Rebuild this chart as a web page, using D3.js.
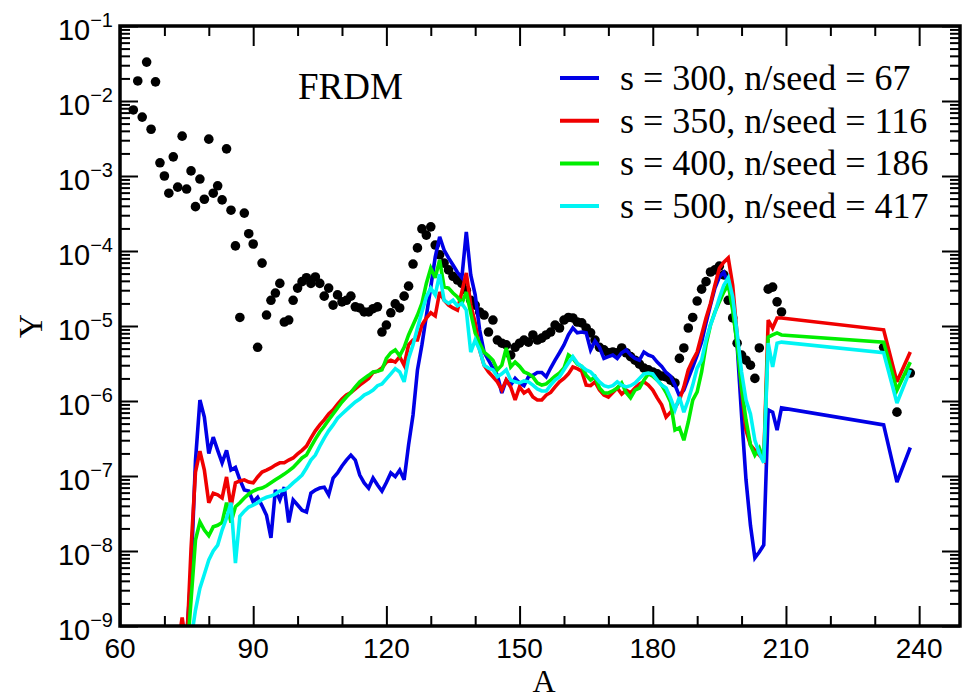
<!DOCTYPE html>
<html><head><meta charset="utf-8">
<script src="https://cdn.jsdelivr.net/npm/d3@7"></script>
<style>body{margin:0;background:#fff}</style>
</head><body>
<svg id="chart" width="964" height="698"></svg>
<script>
// ---------------- data ----------------
const xMajorTicks = [60, 90, 120, 150, 180, 210, 240];
const xMinorTicks = [70, 80, 100, 110, 130, 140, 160, 170, 190, 200, 220, 230];
const yExponents = [-1, -2, -3, -4, -5, -6, -7, -8, -9];
const seriesLabels = ["s = 300, n/seed = 67", "s = 350, n/seed = 116", "s = 400, n/seed = 186", "s = 500, n/seed = 417"];
const seriesColors = ["#0000e6", "#f00000", "#00ee00", "#00f4f4"];
const annotation = "FRDM";

// solar r-process abundances (black dots): [A, Y]
const solarR = [
[63,7.6e-3],[64,1.85e-2],[65,6.1e-3],[66,3.3e-2],[67,4.2e-3],[68,1.8e-2],[69,1.5e-3],[70,1.0e-3],
[71,5.9e-4],[72,1.8e-3],[73,7.1e-4],[74,3.4e-3],[75,6.7e-4],[76,1.17e-3],[77,3.9e-4],[78,9.1e-4],
[79,4.9e-4],[80,3.1e-3],[81,5.9e-4],[82,7.4e-4],[83,4.8e-4],[84,2.3e-3],[85,3.5e-4],[86,1.17e-4],
[87,1.3e-5],[88,3.2e-4],[89,1.7e-4],[90,1.24e-4],[91,5.2e-6],[92,6.9e-5],[93,1.4e-5],[94,2.2e-5],
[95,2.75e-5],[96,3.7e-5],[97,1.13e-5],[98,1.2e-5],[99,2.2e-5],[100,3.2e-5],[101,3.9e-5],[102,4.4e-5],
[103,3.7e-5],[104,4.5e-5],[105,3.7e-5],[106,2.5e-5],[107,3.2e-5],[108,1.9e-5],[109,2.6e-5],[110,2.1e-5],
[111,2.2e-5],[112,2.5e-5],[113,1.8e-5],[114,1.74e-5],[115,1.54e-5],[116,1.54e-5],[117,1.7e-5],[118,1.8e-5],
[119,8.3e-6],[120,1.03e-5],[121,1.5e-5],[122,1.97e-5],[123,1.74e-5],[124,2.5e-5],[125,3.4e-5],[126,6.7e-5],
[127,1.1e-4],[128,1.97e-4],[129,1.63e-4],[130,2.1e-4],[131,1.2e-4],[132,8.9e-5],[133,6.9e-5],[134,5.6e-5],
[135,4.6e-5],[136,4.1e-5],[137,3.7e-5],[138,3.0e-5],[139,2.2e-5],[140,1.9e-5],[141,1.54e-5],[142,1.4e-5],
[143,8.3e-6],[144,1.2e-5],[145,6.5e-6],[146,5.9e-6],[147,5.6e-6],[148,4.1e-6],[149,5.2e-6],[150,5.9e-6],
[151,6.5e-6],[152,6.1e-6],[153,7.6e-6],[154,6.5e-6],[155,6.9e-6],[156,7.6e-6],[157,8.3e-6],[158,1.03e-5],
[159,9.4e-6],[160,1.2e-5],[161,1.3e-5],[162,1.28e-5],[163,1.13e-5],[164,1.1e-5],[165,9.4e-6],[166,8.1e-6],
[167,6.5e-6],[168,5.2e-6],[169,4.8e-6],[170,4.4e-6],[171,4.5e-6],[172,4.4e-6],[173,5.1e-6],[174,4.4e-6],
[175,3.9e-6],[176,3.5e-6],[177,3.1e-6],[178,2.75e-6],[179,2.6e-6],[180,2.44e-6],[181,2.3e-6],[182,2.15e-6],
[183,2.1e-6],[184,1.9e-6],[185,1.74e-6],[186,3.7e-6],[187,5.1e-6],[188,9.4e-6],[189,1.3e-5],[190,2.15e-5],
[191,3.1e-5],[192,3.9e-5],[193,5.25e-5],[194,5.6e-5],[195,6.3e-5],[196,4.8e-5],[197,2.2e-5],[198,1.28e-5],
[199,5.9e-6],[200,4.1e-6],[201,3.5e-6],[202,3.0e-6],[203,2.0e-6],[204,5.1e-6],[206,3.1e-5],[207,3.3e-5],
[208,2.1e-5],[209,1.54e-5],[232,5.2e-6],[235,7.1e-7],[238,2.36e-6]
];

// s = 300, n/seed = 67
const s300 = [
[74,3e-10],[75,7e-10],[76,5e-9],[77,1.6e-7],[78,1.03e-6],[79,6.1e-7],[80,2.0e-7],[81,3.3e-7],[82,2.2e-7],
[83,1.5e-7],[84,2.2e-7],[85,1.2e-7],[86,1.3e-7],[87,8.9e-8],[88,6.5e-8],[89,6.3e-8],[90,4.5e-8],[91,5.2e-8],
[92,4.0e-8],[93,3.0e-8],[94,1.5e-8],[95,6.5e-8],[96,4.8e-8],[97,7.1e-8],[98,2.4e-8],[99,4.8e-8],[100,4.1e-8],
[101,3.5e-8],[102,3.3e-8],[103,5.9e-8],[104,6.5e-8],[105,6.9e-8],[106,7.1e-8],[107,5.6e-8],[108,9.4e-8],
[109,1.1e-7],[110,1.36e-7],[111,1.63e-7],[112,1.9e-7],[113,1.63e-7],[114,1.03e-7],[115,8.1e-8],[116,6.9e-8],
[117,9.4e-8],[118,7.6e-8],[119,6.3e-8],[120,8.2e-8],[121,1.1e-7],[122,9.8e-8],[123,1.2e-7],[124,8.9e-8],
[125,2.6e-7],[126,6.5e-7],[127,2.6e-6],[128,5.6e-6],[129,1.36e-5],[130,3.3e-5],[131,8.3e-5],[132,1.54e-4],
[133,1.03e-4],[134,8.1e-5],[135,6.5e-5],[136,5.2e-5],[137,4.4e-5],[138,1.8e-4],[139,4.8e-5],[140,2.6e-5],
[141,8.9e-6],[142,4.5e-6],[143,3.5e-6],[144,2.75e-6],[145,2.2e-6],[146,1.28e-6],[147,1.9e-6],[148,1.63e-6],
[149,2.0e-6],[150,1.74e-6],[151,1.6e-6],[152,2.1e-6],[153,2.2e-6],[154,2.4e-6],[155,2.4e-6],[156,2.1e-6],
[157,2.75e-6],[158,3.5e-6],[159,4.4e-6],[160,5.6e-6],[161,7.6e-6],[162,9.4e-6],[163,8.1e-6],[164,8.3e-6],
[165,8.1e-6],[166,4.8e-6],[167,6.3e-6],[168,5.2e-6],[169,3.7e-6],[170,3.9e-6],[171,4.1e-6],[172,3.7e-6],
[173,4.4e-6],[174,4.8e-6],[175,4.1e-6],[176,3.7e-6],[177,3.5e-6],[178,4.5e-6],[179,4.1e-6],[180,3.9e-6],
[181,3.3e-6],[182,2.9e-6],[183,2.4e-6],[184,2.15e-6],[185,1.63e-6],[186,1.17e-6],[187,1.4e-6],[188,2.0e-6],
[189,2.84e-6],[190,4.1e-6],[191,6.1e-6],[192,1.1e-5],[193,1.9e-5],[194,3.2e-5],[195,4.5e-5],[196,5.2e-5],
[197,3.7e-5],[198,1.8e-5],[199,5.6e-6],[200,6.5e-7],[201,8.9e-8],[202,2.2e-8],[203,8.1e-9],[204,9.7e-9],
[205,1.2e-8],[206,7.6e-7],[207,7.1e-7],[208,4.1e-7],[209,8.1e-7],[232,4.8e-7],[235,8.3e-8],[238,2.4e-7]
];

// s = 350, n/seed = 116
const s350 = [
[73,5e-10],[74,1.3e-9],[75,5e-10],[76,1.06e-8],[77,1.13e-7],[78,2.15e-7],[79,1.2e-7],[80,4.4e-8],[81,5.9e-8],
[82,5.6e-8],[83,5.1e-8],[84,9.7e-8],[85,3.9e-8],[86,8.1e-8],[87,8.6e-8],[88,8.9e-8],[89,8.3e-8],[90,8.1e-8],
[91,9.7e-8],[92,1.13e-7],[93,1.2e-7],[94,1.28e-7],[95,1.4e-7],[96,1.5e-7],[97,1.5e-7],[98,1.63e-7],[99,1.74e-7],
[100,1.97e-7],[101,2.2e-7],[102,2.5e-7],[103,3.2e-7],[104,4.0e-7],[105,4.8e-7],[106,5.6e-7],[107,6.7e-7],
[108,7.6e-7],[109,9.1e-7],[110,1.06e-6],[111,1.2e-6],[112,1.3e-6],[113,1.45e-6],[114,1.63e-6],[115,1.8e-6],
[116,2.0e-6],[117,2.4e-6],[118,2.5e-6],[119,2.75e-6],[120,3.3e-6],[121,3.5e-6],[122,3.3e-6],[123,3.9e-6],
[124,3.0e-6],[125,5.6e-6],[126,6.5e-6],[127,6.5e-6],[128,1.03e-5],[129,1.28e-5],[130,1.5e-5],[131,1.36e-5],
[132,2.84e-5],[133,2.2e-5],[134,1.9e-5],[135,1.74e-5],[136,1.63e-5],[137,2.84e-5],[138,5.1e-5],[139,1.9e-5],
[140,1.1e-5],[141,4.8e-6],[142,3.0e-6],[143,2.44e-6],[144,2.1e-6],[145,1.8e-6],[146,1.4e-6],[147,1.9e-6],
[148,1.54e-6],[149,1.03e-6],[150,1.54e-6],[151,1.28e-6],[152,1.4e-6],[153,1.13e-6],[154,1.03e-6],[155,1.03e-6],
[156,1.2e-6],[157,1.3e-6],[158,1.54e-6],[159,1.8e-6],[160,2.0e-6],[161,2.3e-6],[162,2.84e-6],[163,2.7e-6],
[164,2.5e-6],[165,1.63e-6],[166,1.6e-6],[167,1.8e-6],[168,1.4e-6],[169,1.2e-6],[170,1.13e-6],[171,1.3e-6],
[172,1.49e-6],[173,1.24e-6],[174,1.4e-6],[175,1.28e-6],[176,1.49e-6],[177,1.69e-6],[178,1.8e-6],[179,1.63e-6],
[180,1.4e-6],[181,1.1e-6],[182,8.9e-7],[183,6.1e-7],[184,7.1e-7],[185,8.1e-7],[186,1.03e-6],[187,1.54e-6],
[188,2.6e-6],[189,3.5e-6],[190,4.5e-6],[191,7.6e-6],[192,1.28e-5],[193,2.0e-5],[194,3.5e-5],[195,5.9e-5],
[196,7.1e-5],[197,8.1e-5],[198,3.5e-5],[199,7.6e-6],[200,1.4e-6],[201,4.1e-7],[202,2.6e-7],[203,2.2e-7],
[204,1.9e-7],[205,1.63e-7],[206,1.2e-5],[207,9.4e-6],[208,1.28e-5],[209,1.28e-5],[232,8.9e-6],[235,1.8e-6],
[238,4.5e-6]
];

// s = 400, n/seed = 186
const s400 = [
[75,3.5e-10],[76,2.2e-9],[77,1.4e-8],[78,2.44e-8],[79,1.9e-8],[80,1.6e-8],[81,2.1e-8],[82,2.2e-8],[83,2.4e-8],
[84,4.4e-8],[85,2.4e-8],[86,3.9e-8],[87,4.4e-8],[88,5.1e-8],[89,5.75e-8],[90,6.3e-8],[91,6.7e-8],[92,6.9e-8],
[93,7.4e-8],[94,8.1e-8],[95,8.9e-8],[96,9.7e-8],[97,1.06e-7],[98,1.17e-7],[99,1.3e-7],[100,1.5e-7],[101,1.74e-7],
[102,1.9e-7],[103,2.44e-7],[104,3.1e-7],[105,3.86e-7],[106,4.6e-7],[107,5.6e-7],[108,6.7e-7],[109,8.1e-7],
[110,9.7e-7],[111,1.13e-6],[112,1.3e-6],[113,1.54e-6],[114,1.8e-6],[115,2.0e-6],[116,2.2e-6],[117,2.44e-6],
[118,2.5e-6],[119,2.6e-6],[120,3.7e-6],[121,4.4e-6],[122,4.8e-6],[123,4.0e-6],[124,5.2e-6],[125,7.6e-6],
[126,1.03e-5],[127,1.4e-5],[128,2.0e-5],[129,3.7e-5],[130,5.9e-5],[131,4.4e-5],[132,7.6e-5],[133,3.3e-5],
[134,3.2e-5],[135,2.75e-5],[136,2.44e-5],[137,2.0e-5],[138,2.84e-5],[139,1.5e-5],[140,8.1e-6],[141,5.9e-6],
[142,4.5e-6],[143,4.0e-6],[144,3.5e-6],[145,2.6e-6],[146,3.0e-6],[147,5.1e-6],[148,2.84e-6],[149,3.3e-6],
[150,2.9e-6],[151,2.44e-6],[152,2.3e-6],[153,2.1e-6],[154,1.74e-6],[155,1.63e-6],[156,1.69e-6],[157,1.9e-6],
[158,2.15e-6],[159,2.36e-6],[160,2.75e-6],[161,4.1e-6],[162,3.7e-6],[163,3.1e-6],[164,2.9e-6],[165,2.2e-6],
[166,1.9e-6],[167,2.1e-6],[168,1.49e-6],[169,1.28e-6],[170,1.28e-6],[171,1.36e-6],[172,1.49e-6],[173,1.74e-6],
[174,1.3e-6],[175,1.1e-6],[176,1.4e-6],[177,1.49e-6],[178,1.9e-6],[179,2.3e-6],[180,2.15e-6],[181,1.9e-6],
[182,1.63e-6],[183,1.3e-6],[184,9.7e-7],[185,4.1e-7],[186,4.4e-7],[187,3.0e-7],[188,5.25e-7],[189,1.03e-6],
[190,1.32e-6],[191,2.44e-6],[192,5.6e-6],[193,1.03e-5],[194,1.54e-5],[195,2.1e-5],[196,2.84e-5],[197,3.6e-5],
[198,1.63e-5],[199,5.6e-6],[200,1.49e-6],[201,5.6e-7],[202,2.6e-7],[203,1.9e-7],[204,2.36e-7],[205,1.63e-7],
[206,7.1e-6],[207,7.6e-6],[208,8.1e-6],[209,7.6e-6],[232,6.1e-6],[235,1.4e-6],[238,3.3e-6]
];

// s = 500, n/seed = 417
const s500 = [
[76,6.5e-10],[77,1.63e-9],[78,3.2e-9],[79,4.9e-9],[80,7.6e-9],[81,1.0e-8],[82,1.2e-8],[83,1.9e-8],[84,2.75e-8],
[85,4.4e-8],[86,6.9e-9],[87,2.9e-8],[88,3.4e-8],[89,3.86e-8],[90,4.1e-8],[91,4.4e-8],[92,4.9e-8],[93,5.2e-8],
[94,5.4e-8],[95,5.75e-8],[96,6.3e-8],[97,6.5e-8],[98,7.1e-8],[99,8.1e-8],[100,9.1e-8],[101,1.03e-7],[102,1.28e-7],
[103,1.63e-7],[104,1.9e-7],[105,2.5e-7],[106,3.2e-7],[107,4.0e-7],[108,4.8e-7],[109,5.9e-7],[110,6.7e-7],
[111,7.6e-7],[112,8.6e-7],[113,9.7e-7],[114,1.06e-6],[115,1.2e-6],[116,1.28e-6],[117,1.4e-6],[118,1.6e-6],
[119,1.69e-6],[120,1.97e-6],[121,2.3e-6],[122,2.7e-6],[123,2.44e-6],[124,1.8e-6],[125,3.7e-6],[126,5.6e-6],
[127,9.4e-6],[128,1.54e-5],[129,2.44e-5],[130,3.2e-5],[131,2.6e-5],[132,4.9e-5],[133,2.2e-5],[134,2.0e-5],
[135,2.2e-5],[136,1.85e-5],[137,2.0e-5],[138,1.63e-5],[139,4.5e-6],[140,6.5e-6],[141,4.8e-6],[142,3.0e-6],
[143,2.75e-6],[144,2.6e-6],[145,2.1e-6],[146,2.3e-6],[147,2.6e-6],[148,1.9e-6],[149,1.8e-6],[150,1.74e-6],
[151,1.85e-6],[152,1.8e-6],[153,1.63e-6],[154,1.45e-6],[155,1.36e-6],[156,1.36e-6],[157,1.63e-6],[158,1.9e-6],
[159,2.1e-6],[160,2.6e-6],[161,3.2e-6],[162,3.9e-6],[163,3.2e-6],[164,2.9e-6],[165,2.6e-6],[166,2.44e-6],
[167,2.1e-6],[168,1.8e-6],[169,1.6e-6],[170,1.54e-6],[171,1.6e-6],[172,1.8e-6],[173,1.63e-6],[174,1.54e-6],
[175,1.6e-6],[176,1.74e-6],[177,2.0e-6],[178,2.3e-6],[179,2.36e-6],[180,2.3e-6],[181,1.9e-6],[182,1.63e-6],
[183,1.49e-6],[184,1.1e-6],[185,7.6e-7],[186,1.13e-6],[187,7.1e-7],[188,1.03e-6],[189,1.63e-6],[190,2.75e-6],
[191,3.5e-6],[192,6.5e-6],[193,1.03e-5],[194,1.5e-5],[195,2.36e-5],[196,3.5e-5],[197,4.4e-5],[198,2.44e-5],
[199,8.1e-6],[200,2.44e-6],[201,1.03e-6],[202,6.7e-7],[203,3.0e-7],[204,2.0e-7],[205,1.5e-7],[206,5.9e-6],
[207,2.84e-6],[208,5.9e-6],[209,6.1e-6],[232,4.4e-6],[235,9.4e-7],[238,2.6e-6]
];

const seriesData = [s300, s350, s400, s500];

// ---------------- drawing ----------------
const svg = d3.select("#chart");
const W = 964, H = 698;
const pLeft = 120, pRight = 960, pTop = 26, pBottom = 626;

const x = d3.scaleLinear().domain([60, 249.2]).range([pLeft, pRight]);
const y = d3.scaleLog().domain([1e-9, 1e-1]).range([pBottom, pTop]);

svg.append("rect").attr("width", W).attr("height", H).attr("fill", "#fff");

svg.append("defs").append("clipPath").attr("id", "plotclip")
  .append("rect").attr("x", pLeft).attr("y", pTop).attr("width", pRight - pLeft).attr("height", pBottom - pTop);

const yMajorTicks = yExponents.map(e => Math.pow(10, e));
const yMinorTicks = [];
yExponents.forEach(e => { for (let m = 2; m <= 9; m++) { const v = m * Math.pow(10, e); if (v < 1e-1) yMinorTicks.push(v); } });

function styleAxis(g) {
  g.select(".domain").remove();
  g.selectAll(".tick line").attr("stroke", "#000").attr("stroke-width", 2);
  g.selectAll(".tick text").remove();
}
svg.append("g").attr("transform", `translate(0,${pBottom})`)
  .call(d3.axisBottom(x).tickValues(xMajorTicks).tickSize(-20).tickFormat("")).call(styleAxis);
svg.append("g").attr("transform", `translate(0,${pBottom})`)
  .call(d3.axisBottom(x).tickValues(xMinorTicks).tickSize(-10).tickFormat("")).call(styleAxis);
svg.append("g").attr("transform", `translate(0,${pTop})`)
  .call(d3.axisTop(x).tickValues(xMajorTicks).tickSize(-20).tickFormat("")).call(styleAxis);
svg.append("g").attr("transform", `translate(0,${pTop})`)
  .call(d3.axisTop(x).tickValues(xMinorTicks).tickSize(-10).tickFormat("")).call(styleAxis);
svg.append("g").attr("transform", `translate(${pLeft},0)`)
  .call(d3.axisLeft(y).tickValues(yMajorTicks).tickSize(-18).tickFormat("")).call(styleAxis);
svg.append("g").attr("transform", `translate(${pLeft},0)`)
  .call(d3.axisLeft(y).tickValues(yMinorTicks).tickSize(-10).tickFormat("")).call(styleAxis);
svg.append("g").attr("transform", `translate(${pRight},0)`)
  .call(d3.axisRight(y).tickValues(yMajorTicks).tickSize(-18).tickFormat("")).call(styleAxis);
svg.append("g").attr("transform", `translate(${pRight},0)`)
  .call(d3.axisRight(y).tickValues(yMinorTicks).tickSize(-10).tickFormat("")).call(styleAxis);

const sans = "'Liberation Sans', Arial, Helvetica, sans-serif";
const serif = "'Liberation Serif', 'Times New Roman', Times, serif";
svg.append("g").selectAll("text").data(xMajorTicks).join("text")
  .attr("x", d => x(d)).attr("y", pBottom + 32).attr("text-anchor", "middle")
  .attr("font-family", sans).attr("font-size", 28).text(d => d);

const yl = svg.append("g").selectAll("text").data(yExponents).join("text")
  .attr("x", pLeft - 7).attr("y", d => y(Math.pow(10, d)) + 14).attr("text-anchor", "end")
  .attr("font-family", sans).attr("font-size", 29);
yl.append("tspan").text("10");
yl.append("tspan").attr("dy", -13).attr("font-size", 20).text(d => "\u2212" + Math.abs(d));

svg.append("text").attr("x", 544).attr("y", 692).attr("text-anchor", "middle")
  .attr("font-family", serif).attr("font-size", 32).text("A");
svg.append("text").attr("transform", `translate(42,${(pTop + pBottom) / 2}) rotate(-90)`)
  .attr("text-anchor", "middle").attr("font-family", serif).attr("font-size", 33).text("Y");

const plot = svg.append("g").attr("clip-path", "url(#plotclip)");
plot.append("g").selectAll("circle").data(solarR).join("circle")
  .attr("cx", d => x(d[0])).attr("cy", d => y(d[1])).attr("r", 4.8).attr("fill", "#000");

const line = d3.line().x(d => x(d[0])).y(d => y(d[1]));
plot.append("g").selectAll("path").data(seriesData).join("path")
  .attr("d", line).attr("fill", "none")
  .attr("stroke", (d, i) => seriesColors[i]).attr("stroke-width", 3.6)
  .attr("stroke-linejoin", "miter").attr("stroke-miterlimit", 3);

svg.append("text").attr("x", 298).attr("y", 99).attr("font-family", serif).attr("font-size", 37).text(annotation);

const lg = svg.append("g");
lg.append("rect").attr("x", 548).attr("y", 57).attr("width", 382).attr("height", 173).attr("fill", "#fff");
const rows = lg.selectAll("g.row").data(seriesLabels).join("g").attr("class", "row")
  .attr("transform", (d, i) => `translate(0,${90 + i * 42.7})`);
rows.append("line").attr("x1", 560).attr("x2", 599).attr("y1", -12).attr("y2", -12)
  .attr("stroke", (d, i) => seriesColors[i]).attr("stroke-width", 4);
rows.append("text").attr("x", 620).attr("y", 0).attr("font-family", serif).attr("font-size", 36).text(d => d);

svg.append("rect").attr("x", pLeft).attr("y", pTop).attr("width", pRight - pLeft).attr("height", pBottom - pTop)
  .attr("fill", "none").attr("stroke", "#000").attr("stroke-width", 3.5);
</script>
</body></html>
